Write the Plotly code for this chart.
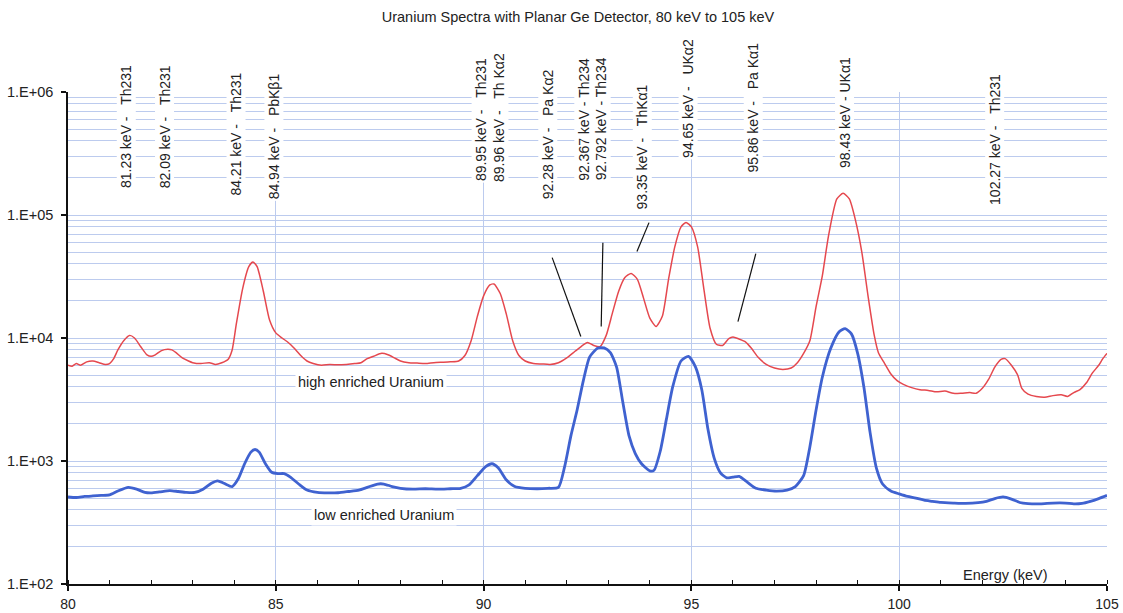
import plotly.graph_objects as go

# Gamma/X-ray spectra, counts per channel vs energy (keV)
high_energy = [
    80.00, 80.10, 80.20, 80.30, 80.45, 80.60, 80.75, 80.90, 81.00, 81.10,
    81.20, 81.35, 81.48, 81.60, 81.75, 81.90, 82.00, 82.10, 82.25, 82.40,
    82.50, 82.60, 82.75, 82.90, 83.00, 83.20, 83.40, 83.55, 83.70, 83.85,
    83.95, 84.05, 84.20, 84.35, 84.45, 84.55, 84.70, 84.85, 85.00, 85.15,
    85.30, 85.45, 85.60, 85.75, 85.90, 86.10, 86.30, 86.50, 86.70, 86.90,
    87.05, 87.20, 87.35, 87.55, 87.70, 87.85, 88.00, 88.20, 88.40, 88.60,
    88.80, 89.00, 89.20, 89.40, 89.55, 89.70, 89.85, 90.00, 90.15, 90.25,
    90.40, 90.55, 90.70, 90.85, 91.00, 91.20, 91.40, 91.60, 91.80, 92.00,
    92.20, 92.40, 92.50, 92.65, 92.80, 92.95, 93.10, 93.25, 93.40, 93.55,
    93.70, 93.85, 94.00, 94.15, 94.30, 94.45, 94.60, 94.75, 94.87, 95.00,
    95.15, 95.30, 95.45, 95.60, 95.75, 95.90, 96.00, 96.15, 96.30, 96.45,
    96.60, 96.80, 97.00, 97.20, 97.40, 97.55, 97.70, 97.85, 98.00, 98.15,
    98.30, 98.50, 98.65, 98.80, 98.95, 99.10, 99.25, 99.40, 99.50, 99.65,
    99.80, 99.95, 100.10, 100.30, 100.50, 100.70, 100.90, 101.10, 101.30, 101.50,
    101.70, 101.85, 102.00, 102.15, 102.30, 102.45, 102.55, 102.70, 102.85, 102.95,
    103.10, 103.30, 103.50, 103.70, 103.90, 104.05, 104.20, 104.35, 104.50, 104.65,
    104.80, 104.90, 105.00,
]
high_counts = [
    6000, 5900, 6200, 6000, 6400, 6500, 6300, 6100, 6200, 6800,
    8000, 9600, 10500, 10000, 8500, 7300, 7100, 7300, 7900, 8100,
    8000, 7600, 6900, 6500, 6300, 6200, 6300, 6100, 6300, 6700,
    8000, 13000, 25000, 38000, 41500, 38000, 24000, 14000, 11000, 10000,
    9200, 8200, 7200, 6500, 6200, 6000, 6100, 6050, 6100, 6200,
    6300, 6800, 7100, 7500, 7300, 6900, 6500, 6300, 6250, 6200,
    6300, 6350, 6400, 6500, 7200, 9500, 15000, 22000, 27000, 27500,
    23000, 15500, 9500, 7200, 6500, 6200, 6150, 6100, 6300, 6900,
    7800, 8800, 9200, 8700, 8500, 10500, 16000, 24000, 31000, 33500,
    30000, 21000, 14500, 12400, 15000, 30000, 55000, 80000, 87000, 80000,
    55000, 25000, 12000, 8900, 8700, 9900, 10200, 9800, 9300, 8200,
    7000, 6100, 5700, 5550, 5700, 6300, 7500, 9500, 18000, 32000,
    68000, 135000, 150000, 135000, 90000, 50000, 22000, 10500, 7600, 6200,
    5100, 4500, 4200, 3950, 3800, 3750, 3650, 3700, 3550, 3560,
    3600, 3550, 3900, 4600, 5800, 6700, 6800, 6000, 5000, 3900,
    3500, 3350, 3300, 3400, 3450, 3350, 3600, 3800, 4300, 5200,
    6000, 6800, 7500,
]

low_energy = [
    80.00, 80.20, 80.40, 80.60, 80.80, 81.00, 81.20, 81.45, 81.65, 81.85,
    82.00, 82.20, 82.45, 82.65, 82.85, 83.05, 83.25, 83.45, 83.60, 83.75,
    83.95, 84.10, 84.25, 84.40, 84.50, 84.60, 84.75, 84.90, 85.05, 85.20,
    85.35, 85.55, 85.75, 86.00, 86.25, 86.50, 86.75, 87.00, 87.20, 87.45,
    87.60, 87.80, 88.00, 88.30, 88.60, 88.90, 89.20, 89.45, 89.65, 89.85,
    90.05, 90.20, 90.35, 90.55, 90.75, 91.00, 91.30, 91.55, 91.80, 91.95,
    92.10, 92.25, 92.40, 92.55, 92.75, 92.90, 93.05, 93.20, 93.35, 93.50,
    93.65, 93.80, 94.00, 94.10, 94.25, 94.40, 94.55, 94.75, 94.93, 95.10,
    95.25, 95.40, 95.55, 95.70, 95.85, 96.00, 96.15, 96.35, 96.55, 96.80,
    97.05, 97.30, 97.50, 97.70, 97.85, 98.00, 98.15, 98.35, 98.55, 98.70,
    98.85, 99.00, 99.15, 99.30, 99.45, 99.60, 99.80, 100.00, 100.20, 100.40,
    100.60, 100.80, 101.00, 101.30, 101.60, 101.90, 102.10, 102.30, 102.50, 102.70,
    102.90, 103.10, 103.40, 103.70, 104.00, 104.20, 104.40, 104.60, 104.80, 105.00,
]
low_counts = [
    510, 505, 515, 520, 525, 530, 570, 610, 590, 555,
    550, 560, 575, 565, 555, 555, 590, 660, 690, 660,
    620, 720, 950, 1180, 1240, 1180, 950, 810, 790, 790,
    740, 650, 580, 555, 550, 552, 565, 580, 610, 650,
    650, 620, 600, 590, 595, 590, 595, 600, 640, 760,
    900, 950, 880, 700, 620, 600, 595, 600, 610, 900,
    1600, 2600, 4500, 7000, 8300, 8300, 7600, 5800, 3000, 1600,
    1150, 950, 830, 840, 1200, 2200, 4000, 6500, 7100, 5800,
    3800, 1800, 1050, 800, 730, 740, 750, 670, 600, 580,
    570, 580, 620, 760, 1300, 2600, 4800, 8200, 11200, 11900,
    10800, 7500, 4000, 1700, 880, 650, 570, 540, 515, 500,
    480, 470, 460, 455, 452, 458, 470, 495, 510, 490,
    460, 450, 448, 455, 455, 448, 452, 470, 495, 525,
]

# Line identifications written above the spectra
line_labels = [
    "81.23 keV -\u00a0\u00a0\u00a0Th231",
    "82.09 keV -\u00a0\u00a0\u00a0Th231",
    "84.21 keV -\u00a0\u00a0\u00a0Th231",
    "84.94 keV -\u00a0\u00a0\u00a0PbK\u03b21",
    "89.95 keV -\u00a0\u00a0\u00a0Th231",
    "89.96 keV -\u00a0\u00a0\u00a0Th K\u03b12",
    "92.28 keV -\u00a0\u00a0\u00a0Pa K\u03b12",
    "92.367 keV - Th234",
    "92.792 keV - Th234",
    "93.35 keV -\u00a0\u00a0\u00a0ThK\u03b11",
    "94.65 keV -\u00a0\u00a0\u00a0UK\u03b12",
    "95.86 keV -\u00a0\u00a0\u00a0Pa K\u03b11",
    "98.43 keV - UK\u03b11",
    "102.27 keV -\u00a0\u00a0\u00a0Th231",
]
# where each label column sits (energy axis) and where its lower end starts (fraction of plot height)
label_x = [81.40, 82.32, 84.05, 84.96, 89.94, 90.37, 91.55, 92.40, 92.83, 93.82,
           94.93, 96.48, 98.69, 102.30]
label_base = [0.800, 0.800, 0.785, 0.778, 0.814, 0.814, 0.778, 0.815, 0.816, 0.757,
              0.862, 0.832, 0.842, 0.767]

# Leader lines from labels to their peaks: (E0, counts0, E1, counts1)
leaders = [
    (91.65, 45000, 92.34, 10300),
    (92.87, 59600, 92.83, 12400),
    (93.98, 86700, 93.69, 50400),
    (96.55, 48500, 96.12, 13600),
]

y_tick_vals = [1e2, 1e3, 1e4, 1e5, 1e6]
y_tick_text = ["1.E+02", "1.E+03", "1.E+04", "1.E+05", "1.E+06"]

GRID = "#bccbee"
FONT = "Liberation Sans, Arial, sans-serif"
TXT = "#222222"

fig = go.Figure()

fig.add_trace(go.Scatter(
    x=high_energy, y=high_counts, mode="lines",
    line=dict(color="#e5484e", width=1.5, shape="spline", smoothing=0.6),
    name="high enriched Uranium", showlegend=False, hoverinfo="x+y",
))
fig.add_trace(go.Scatter(
    x=low_energy, y=low_counts, mode="lines",
    line=dict(color="#3f62d0", width=2.8, shape="spline", smoothing=0.6),
    name="low enriched Uranium", showlegend=False, hoverinfo="x+y",
))

for e0, c0, e1, c1 in leaders:
    fig.add_trace(go.Scatter(
        x=[e0, e1], y=[c0, c1], mode="lines",
        line=dict(color="#111111", width=1.2),
        showlegend=False, hoverinfo="skip",
    ))

annotations = []
for text, xe, yb in zip(line_labels, label_x, label_base):
    annotations.append(dict(
        text=text, x=xe, y=yb, xref="x", yref="paper",
        textangle=-90, xanchor="center", yanchor="bottom",
        showarrow=False, bgcolor="white", borderpad=1,
        font=dict(family=FONT, size=14, color=TXT),
    ))

annotations.append(dict(
    text="high enriched Uranium", x=87.28, y=3.645, xref="x", yref="y",
    showarrow=False, bgcolor="white", borderpad=2,
    font=dict(family=FONT, size=14.5, color=TXT),
))
annotations.append(dict(
    text="low enriched Uranium", x=87.61, y=2.563, xref="x", yref="y",
    showarrow=False, bgcolor="white", borderpad=2,
    font=dict(family=FONT, size=14.5, color=TXT),
))
annotations.append(dict(
    text="Energy (keV)", x=102.56, y=0.019, xref="x", yref="paper",
    yanchor="middle", showarrow=False,
    font=dict(family=FONT, size=14.5, color=TXT),
))

fig.update_layout(
    width=1123, height=613,
    margin=dict(l=68, r=16, t=92, b=29, autoexpand=False),
    paper_bgcolor="white", plot_bgcolor="white",
    title=dict(
        text="Uranium Spectra with Planar Ge Detector, 80 keV to 105 keV",
        x=578 / 1123, xanchor="center", y=1 - 17 / 613, yanchor="middle",
        font=dict(family=FONT, size=14.5, color=TXT),
    ),
    font=dict(family=FONT, size=14.5, color=TXT),
    annotations=annotations,
    showlegend=False,
)

fig.update_xaxes(
    range=[80, 105], tickmode="linear", tick0=80, dtick=5,
    showgrid=True, gridcolor=GRID, gridwidth=1,
    showline=True, linecolor="#111111", linewidth=1.5,
    ticks="outside", ticklen=5, tickcolor="#111111", tickwidth=1.5,
    ticklabelstandoff=1,
    zeroline=False, automargin=False,
    minor=dict(dtick=1, ticks="inside", ticklen=4, tickcolor="#111111",
               tickwidth=1, showgrid=False),
    tickfont=dict(family=FONT, size=14, color=TXT),
)
fig.update_yaxes(
    type="log", range=[2, 6],
    tickvals=y_tick_vals, ticktext=y_tick_text,
    showgrid=True, gridcolor=GRID, gridwidth=1,
    showline=True, linecolor="#111111", linewidth=1.5,
    ticks="outside", ticklen=5, tickcolor="#111111", tickwidth=1.5,
    ticklabelstandoff=5,
    zeroline=False, automargin=False,
    minor=dict(dtick="D1", showgrid=True, gridcolor=GRID, gridwidth=1, ticks=""),
    tickfont=dict(family=FONT, size=14.5, color=TXT),
)

fig.write_html("out.html")
